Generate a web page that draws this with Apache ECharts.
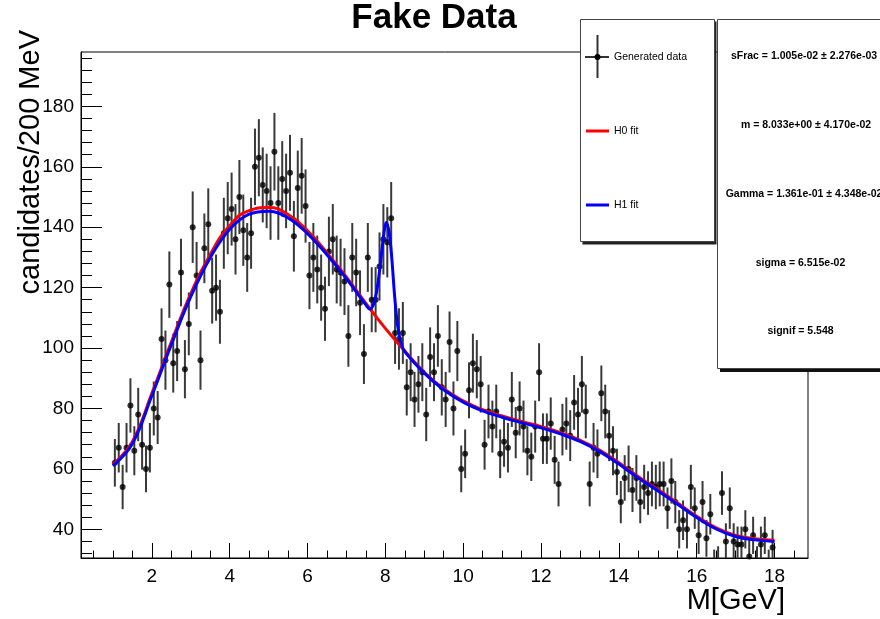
<!DOCTYPE html>
<html>
<head>
<meta charset="utf-8">
<title>Fake Data</title>
<script src="https://cdn.jsdelivr.net/npm/echarts@6/dist/echarts.min.js"></script>
<style>html,body{margin:0;padding:0;background:#fff;}</style>
</head>
<body>
<div id="chart" style="width:880px;height:619px;"></div>
<script>
// histogram: 170 bins of 0.1 GeV from 1 to 18
var binStart = 1.0;
var binWidth = 0.1;
var counts = [
  62, 67, 54, 67, 81, 66, 78, 68, 60, 67,
  80, 77, 103, 96, 121, 95, 99, 125, 93, 108,
  140, 124, 96, 133, 141, 119, 120, 112, 138, 143,
  146, 136, 150, 139, 130, 138, 160, 163, 154, 152,
  148, 165, 148, 156, 152, 158, 137, 153, 157, 147,
  124, 130, 126, 120, 113, 132, 136, 126, 125, 122,
  104, 130, 125, 115, 98, 130, 116, 116, 127, 136,
  135, 143, 105, 103, 105, 87, 92, 83, 88, 92,
  78, 97, 92, 104, 87, 83, 102, 80, 99, 60,
  65, 86, 95, 93, 88, 68, 79, 74, 79, 65,
  69, 67, 83, 72, 80, 74, 66, 64, 74, 92,
  70, 70, 75, 63, 55, 73, 75, 71, 82, 78,
  88, 79, 55, 67, 65, 85, 79, 71, 66, 59,
  49, 57, 60, 53, 57, 49, 54, 52, 55, 54,
  55, 55, 47, 56, 49, 40, 43, 40, 54, 47,
  38, 49, 37, 45, 28, 29, 52, 36, 47, 36,
  35, 35, 40, 31, 38, 29, 35, 38, 28, 34
];

// fit curves: [M, candidates]
var h0Fit = [
  [1.0, 61.5], [1.5, 69], [2.0, 85], [2.5, 102], [3.0, 118], [3.5, 131],
  [4.0, 140.5], [4.5, 145.5], [5.0, 146.5], [5.5, 144.2], [6.0, 138.8],
  [6.5, 131.5], [7.0, 123.5], [7.5, 114.8], [8.0, 106.5], [8.5, 99],
  [9.0, 92], [9.5, 86.5], [10.0, 82.5], [10.5, 79.6], [11.0, 77.5],
  [11.5, 75.7], [12.0, 74], [12.5, 72], [13.0, 69.5], [13.5, 66.2],
  [14.0, 62], [14.5, 57.4], [15.0, 53.2], [15.5, 48.8], [16.0, 44.3],
  [16.5, 40.5], [17.0, 38], [17.5, 36.9], [18.0, 36.4]
];
var h1Fit = [
  [1.0, 61.0], [1.5, 68.3], [2.0, 84.2], [2.5, 101.1], [3.0, 117], [3.5, 129.9],
  [4.0, 139.3], [4.5, 144.3], [5.0, 145.3], [5.5, 143.1], [6.0, 137.9],
  [6.5, 130.9], [7.0, 123], [7.5, 114.3], [7.6, 112.9], [7.7, 114.6],
  [7.78, 119], [7.86, 126.5], [7.94, 135.5], [8.03, 141.6], [8.1, 138],
  [8.17, 129], [8.24, 117], [8.32, 107], [8.4, 101.8], [8.5, 98.8],
  [9.0, 91.7], [9.5, 86.2], [10.0, 82.1], [10.5, 79.2], [11.0, 77.1],
  [11.5, 75.3], [12.0, 73.6], [12.5, 71.6], [13.0, 69.1], [13.5, 65.8],
  [14.0, 61.6], [14.5, 57], [15.0, 52.8], [15.5, 48.4], [16.0, 43.9],
  [16.5, 40.1], [17.0, 37.6], [17.5, 36.5], [18.0, 36]
];

var xMajorTicks = [2, 4, 6, 8, 10, 12, 14, 16, 18];
var xMinorTicks = [0.5, 1, 1.5, 2.5, 3, 3.5, 4.5, 5, 5.5, 6.5, 7, 7.5, 8.5, 9, 9.5,
  10.5, 11, 11.5, 12.5, 13, 13.5, 14.5, 15, 15.5, 16.5, 17, 17.5, 18.5];
var yMajorTicks = [40, 60, 80, 100, 120, 140, 160, 180];
var yMinorTicks = [32, 36, 44, 48, 52, 56, 64, 68, 72, 76, 84, 88, 92, 96,
  104, 108, 112, 116, 124, 128, 132, 136, 144, 148, 152, 156, 164, 168, 172, 176,
  184, 188, 192, 196];

var fitParams = [
  'sFrac = 1.005e-02 \u00b1 2.276e-03',
  'm = 8.033e+00 \u00b1 4.170e-02',
  'Gamma = 1.361e-01 \u00b1 4.348e-02',
  'sigma = 6.515e-02',
  'signif = 5.548'
];

// points and poisson error bars
var points = [];
var errBars = [];
counts.forEach(function (n, i) {
  var x = binStart + binWidth * (i + 0.5);
  points.push([x, n]);
  errBars.push([x, n - Math.sqrt(n), n + Math.sqrt(n)]);
});

var FONT = 'Liberation Sans';
var X_MIN = 0.18, X_MAX = 18.86, Y_MIN = 30.5, Y_MAX = 198;

var tickLine = { color: '#000', width: 1 };

var option = {
  animation: false,
  backgroundColor: '#fff',
  grid: {
    left: 81, right: 72, top: 52, bottom: 61,
    show: true, borderColor: '#000', borderWidth: 1, backgroundColor: 'transparent'
  },
  xAxis: [{
    type: 'value', min: X_MIN, max: X_MAX, position: 'bottom',
    axisLine: { show: true, lineStyle: tickLine },
    axisTick: { show: true, inside: true, length: 15, customValues: xMajorTicks, lineStyle: tickLine },
    axisLabel: { customValues: xMajorTicks, color: '#000', fontSize: 19, fontFamily: FONT, margin: 9 },
    splitLine: { show: false }
  }, {
    type: 'value', min: X_MIN, max: X_MAX, position: 'bottom',
    axisLine: { show: false },
    axisTick: { show: true, inside: true, length: 7.5, customValues: xMinorTicks, lineStyle: tickLine },
    axisLabel: { show: false },
    splitLine: { show: false }
  }],
  yAxis: [{
    type: 'value', min: Y_MIN, max: Y_MAX, position: 'left',
    axisLine: { show: true, lineStyle: tickLine },
    axisTick: { show: true, inside: true, length: 21, customValues: yMajorTicks, lineStyle: tickLine },
    axisLabel: { customValues: yMajorTicks, color: '#000', fontSize: 19, fontFamily: FONT, margin: 7 },
    splitLine: { show: false }
  }, {
    type: 'value', min: Y_MIN, max: Y_MAX, position: 'left',
    axisLine: { show: false },
    axisTick: { show: true, inside: true, length: 11, customValues: yMinorTicks, lineStyle: tickLine },
    axisLabel: { show: false },
    splitLine: { show: false }
  }],
  series: [{
    name: 'errors',
    type: 'custom',
    clip: true,
    data: errBars,
    renderItem: function (params, api) {
      var lo = api.coord([api.value(0), api.value(1)]);
      var hi = api.coord([api.value(0), api.value(2)]);
      return {
        type: 'line',
        shape: { x1: lo[0], y1: lo[1], x2: hi[0], y2: hi[1] },
        style: { stroke: '#3a3a3a', lineWidth: 2 }
      };
    }
  }, {
    name: 'Generated data',
    type: 'scatter',
    clip: true,
    symbol: 'circle',
    symbolSize: 6,
    itemStyle: { color: '#000' },
    data: points
  }, {
    name: 'H0 fit',
    type: 'line',
    data: h0Fit,
    showSymbol: false,
    smooth: 0.5,
    lineStyle: { color: '#ff0000', width: 3 }
  }, {
    name: 'H1 fit',
    type: 'line',
    data: h1Fit,
    showSymbol: false,
    smooth: 0.4,
    lineStyle: { color: '#0000ff', width: 3 }
  }],
  graphic: [
    { type: 'text', x: 434, y: 18, z: 100,
      style: { text: 'Fake Data', font: 'bold 35px ' + FONT, fill: '#000', textAlign: 'center', textVerticalAlign: 'middle' } },
    { type: 'text', x: 785, y: 601, z: 100,
      style: { text: 'M[GeV]', font: '29px ' + FONT, fill: '#000', textAlign: 'right', textVerticalAlign: 'middle' } },
    { type: 'text', x: 31, y: 30, rotation: Math.PI / 2, z: 100,
      style: { text: 'candidates/200 MeV', font: '29px ' + FONT, fill: '#000', textAlign: 'right', textVerticalAlign: 'middle' } },

    // legend box
    { type: 'rect', z: 100, shape: { x: 582.5, y: 21.5, width: 134, height: 223 }, style: { fill: '#222' } },
    { type: 'rect', z: 101, shape: { x: 580.5, y: 19.5, width: 134, height: 222 }, style: { fill: '#fff', stroke: '#444', lineWidth: 1 } },
    { type: 'line', z: 102, shape: { x1: 597.5, y1: 35, x2: 597.5, y2: 78 }, style: { stroke: '#333', lineWidth: 2 } },
    { type: 'line', z: 102, shape: { x1: 585, y1: 57, x2: 609, y2: 57 }, style: { stroke: '#333', lineWidth: 2 } },
    { type: 'circle', z: 103, shape: { cx: 597.5, cy: 57, r: 3 }, style: { fill: '#000' } },
    { type: 'text', z: 102, x: 614, y: 57, style: { text: 'Generated data', font: '10.5px ' + FONT, fill: '#000', textVerticalAlign: 'middle' } },
    { type: 'line', z: 102, shape: { x1: 586, y1: 131, x2: 609, y2: 131 }, style: { stroke: '#ff0000', lineWidth: 3 } },
    { type: 'text', z: 102, x: 614, y: 131, style: { text: 'H0 fit', font: '10.5px ' + FONT, fill: '#000', textVerticalAlign: 'middle' } },
    { type: 'line', z: 102, shape: { x1: 586, y1: 205, x2: 609, y2: 205 }, style: { stroke: '#0000ff', lineWidth: 3 } },
    { type: 'text', z: 102, x: 614, y: 205, style: { text: 'H1 fit', font: '10.5px ' + FONT, fill: '#000', textVerticalAlign: 'middle' } },

    // fit parameter box
    { type: 'rect', z: 100, shape: { x: 720, y: 22, width: 200, height: 350 }, style: { fill: '#111' } },
    { type: 'rect', z: 101, shape: { x: 717.5, y: 19.5, width: 200, height: 349 }, style: { fill: '#fff', stroke: '#444', lineWidth: 1 } },
    { type: 'text', z: 102, x: 804, y: 56, style: { text: fitParams[0], font: 'bold 10.5px ' + FONT, fill: '#000', textAlign: 'center', textVerticalAlign: 'middle' } },
    { type: 'text', z: 102, x: 806, y: 125, style: { text: fitParams[1], font: 'bold 10.5px ' + FONT, fill: '#000', textAlign: 'center', textVerticalAlign: 'middle' } },
    { type: 'text', z: 102, x: 804, y: 194, style: { text: fitParams[2], font: 'bold 10.5px ' + FONT, fill: '#000', textAlign: 'center', textVerticalAlign: 'middle' } },
    { type: 'text', z: 102, x: 800.5, y: 263, style: { text: fitParams[3], font: 'bold 10.5px ' + FONT, fill: '#000', textAlign: 'center', textVerticalAlign: 'middle' } },
    { type: 'text', z: 102, x: 800.5, y: 331, style: { text: fitParams[4], font: 'bold 10.5px ' + FONT, fill: '#000', textAlign: 'center', textVerticalAlign: 'middle' } }
  ]
};

var chart = echarts.init(document.getElementById('chart'));
chart.setOption(option);
</script>
</body>
</html>
